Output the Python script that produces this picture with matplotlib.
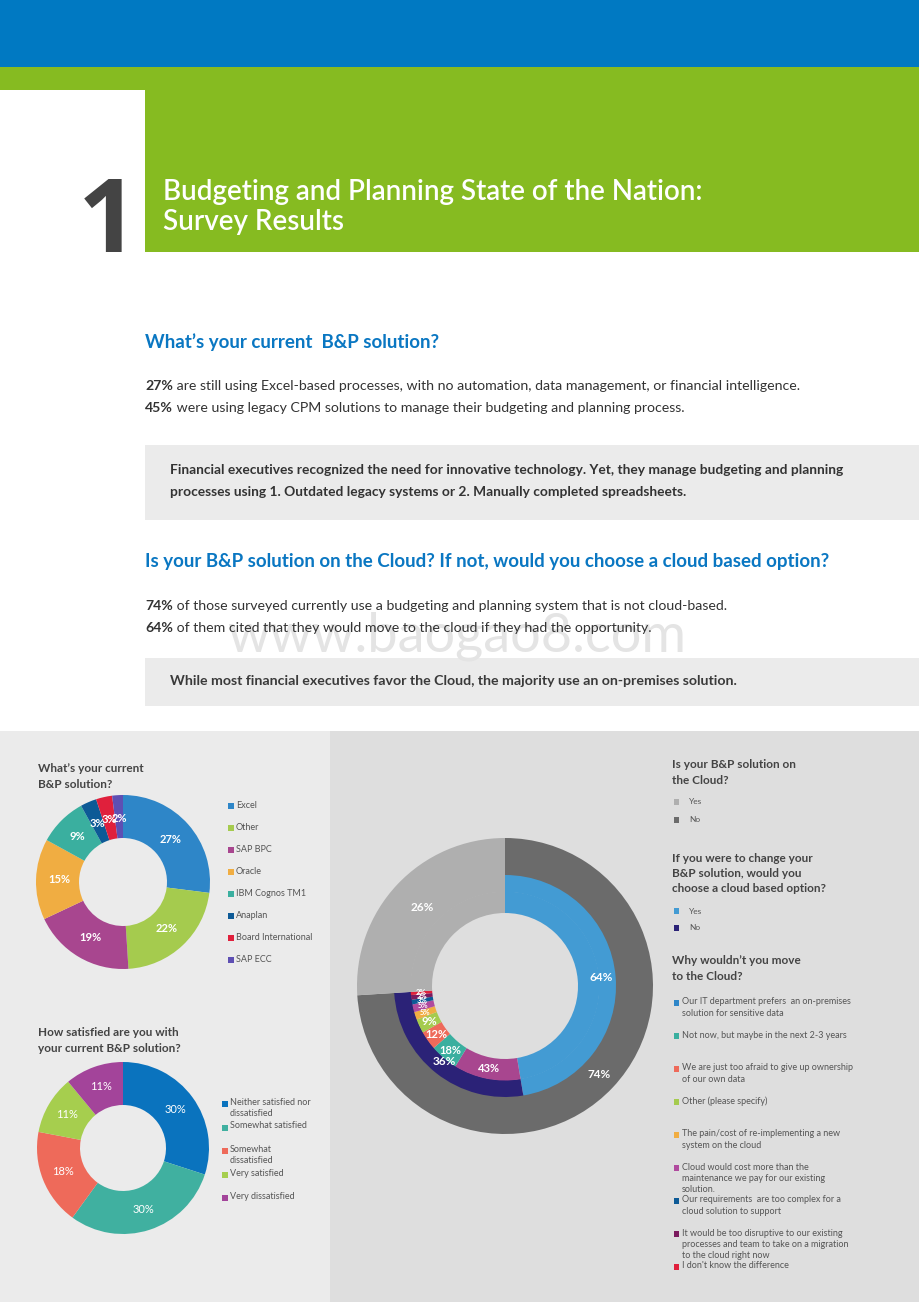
import numpy as np
import matplotlib.pyplot as plt
from matplotlib.patches import Rectangle

plt.rcParams['font.family'] = ['Lato', 'DejaVu Sans']

W, H = 920, 1302

# ---- data ----
sol_labels = ['Excel', 'Other', 'SAP BPC', 'Oracle', 'IBM Cognos TM1',
              'Anaplan', 'Board International', 'SAP ECC']
sol_values = [27, 22, 19, 15, 9, 3, 3, 2]
sol_colors = ['#2E86C8', '#A5CB4E', '#A8468F', '#F0AD42', '#3AAF9F',
              '#0D5A96', '#E0203C', '#5E4FB3']

sat_labels = ['Neither satisfied nor\ndissatisfied', 'Somewhat satisfied',
              'Somewhat\ndissatisfied', 'Very satisfied', 'Very dissatisfied']
sat_values = [30, 30, 18, 11, 11]
sat_colors = ['#0A73BE', '#40B0A0', '#EE6A5A', '#A6CE4E', '#A3449A']

cloud_labels = ['Yes', 'No']
cloud_values = [26, 74]
cloud_colors = ['#AFAFAF', '#6B6B6B']

switch_labels = ['Yes', 'No']
switch_values = [64, 36]
switch_colors = ['#439BD3', '#2B2277']

reason_labels = ['Our IT department prefers  an on-premises\nsolution for sensitive data',
                 'Not now, but maybe in the next 2-3 years',
                 'We are just too afraid to give up ownership\nof our own data',
                 'Other (please specify)',
                 'The pain/cost of re-implementing a new\nsystem on the cloud',
                 'Cloud would cost more than the\nmaintenance we pay for our existing\nsolution.',
                 'Our requirements  are too complex for a\ncloud solution to support',
                 'It would be too disruptive to our existing\nprocesses and team to take on a migration\nto the cloud right now',
                 "I don't know the difference"]
reason_values = [43, 18, 12, 9, 5, 5, 3, 3, 2]
reason_key_colors = ['#2E86C8', '#3AAF9F', '#EE6A5A', '#A5CB4E', '#F0AD42',
                     '#B04A9E', '#0D5A96', '#7B1A5E', '#E0203C']
reason_slice_colors = ['#A8468F'] + reason_key_colors[1:]

BLUE = '#0A77C2'
DARK = '#333333'
HEAD = '#444444'

fig = plt.figure(figsize=(W / 100, H / 100), dpi=100)
bg = fig.add_axes([0, 0, 1, 1])
bg.set_xlim(0, W)
bg.set_ylim(H, 0)
bg.axis('off')


def box(x0, y0, x1, y1, color, z=0):
    bg.add_patch(Rectangle((x0, y0), x1 - x0, y1 - y0, color=color, lw=0, zorder=z))


# ---- header bands ----
box(0, 0, W, 67, '#0079C2')
box(0, 67, W, 252, '#86BB21')
box(0, 90, 145, 252, 'white')
bg.text(108, 255, '1', fontsize=76, fontweight='bold', color='#444444',
        family=['Open Sans', 'DejaVu Sans'], ha='center', va='baseline')
box(0, 252, 145, 270, 'white', z=3)
bg.text(163, 200, 'Budgeting and Planning State of the Nation:', fontsize=20,
        fontweight='semibold', color='white', va='baseline')
bg.text(163, 230, 'Survey Results', fontsize=20, fontweight='semibold',
        color='white', va='baseline')

# watermark
bg.text(457, 636, 'www.baogao8.com', fontsize=39, color='#e4e4e4',
        ha='center', va='center', zorder=0.5)


def rich(x, y, bold, rest, size=10.2):
    t = bg.text(x, y, bold, fontsize=size, fontweight='bold', color=DARK,
                va='center', zorder=2)
    bg.annotate(rest, xy=(1, 0), xycoords=t, fontsize=size, color=DARK,
                va='bottom', ha='left', zorder=2)


bg.text(145, 342, 'What\u2019s your current  B&P solution?', fontsize=13.5,
        fontweight='bold', color=BLUE, va='center')
rich(145, 386, '27%', ' are still using Excel-based processes, with no automation, '
     'data management, or financial intelligence.')
rich(145, 408, '45%', ' were using legacy CPM solutions to manage their budgeting '
     'and planning process.')

box(145, 445, W, 520, '#EBEBEB')
bg.text(170, 470, 'Financial executives recognized the need for innovative technology. '
        'Yet, they manage budgeting and planning', fontsize=9.9,
        fontweight='bold', color=DARK, va='center')
bg.text(170, 492, 'processes using 1. Outdated legacy systems or 2. Manually '
        'completed spreadsheets.', fontsize=9.9, fontweight='bold',
        color=DARK, va='center')

bg.text(145, 562, 'Is your B&P solution on the Cloud? If not, would you choose '
        'a cloud based option?', fontsize=13.5, fontweight='bold',
        color=BLUE, va='center')
rich(145, 606, '74%', ' of those surveyed currently use a budgeting and planning '
     'system that is not cloud-based.')
rich(145, 628, '64%', ' of them cited that they would move to the cloud if they '
     'had the opportunity.')

box(145, 658, W, 706, '#EBEBEB')
bg.text(170, 681, 'While most financial executives favor the Cloud, the majority '
        'use an on-premises solution.', fontsize=10.2, fontweight='bold',
        color='#3a3a3a', va='center')

# ---- bottom panels ----
box(0, 731, 330, H, '#EBEBEB')
box(330, 731, W, H, '#DEDEDE')


def pie_axes(cx, cy, h):
    ax = fig.add_axes([(cx - h) / W, 1 - (cy + h) / H, 2 * h / W, 2 * h / H])
    ax.axis('off')
    return ax


def fix_limits(ax, h):
    ax.set_xlim(-h, h)
    ax.set_ylim(-h, h)
    ax.set_aspect('equal')


def ring_labels(ax, wedges, texts, r, sizes=None, fs=8, **kw):
    for i, (w, t) in enumerate(zip(wedges, texts)):
        if not t:
            continue
        a = np.deg2rad((w.theta1 + w.theta2) / 2)
        ax.text(r * np.cos(a), r * np.sin(a), t, ha='center', va='center',
                color='white', fontsize=sizes[i] if sizes else fs, **kw)


def key(x, y, color, s=6):
    bg.add_patch(Rectangle((x, y - s / 2), s, s, color=color, lw=0))


# pie 1: current solution
ax1 = pie_axes(123, 882, 95)
w1, _ = ax1.pie(sol_values, colors=sol_colors, radius=87, startangle=90,
                counterclock=False, wedgeprops=dict(width=43, lw=0))
fix_limits(ax1, 95)
ring_labels(ax1, w1, [f'{v}%' for v in sol_values], 64, fs=8, fontweight='bold')
bg.text(38, 768, 'What\u2019s your current', fontsize=8.5, fontweight='bold',
        color=HEAD, va='center')
bg.text(38, 784, 'B&P solution?', fontsize=8.5, fontweight='bold',
        color=HEAD, va='center')
for i, (lab, c) in enumerate(zip(sol_labels, sol_colors)):
    y = 806 + 22 * i
    key(228, y, c)
    bg.text(236, y, lab, fontsize=6.5, color='#555555', va='center')

# pie 2: satisfaction
ax2 = pie_axes(123, 1148, 95)
w2, _ = ax2.pie(sat_values, colors=sat_colors, radius=86, startangle=90,
                counterclock=False, wedgeprops=dict(width=43, lw=0))
fix_limits(ax2, 95)
ring_labels(ax2, w2, [f'{v}%' for v in sat_values], 65, fs=8)
bg.text(38, 1033, 'How satisfied are you with', fontsize=8.5, fontweight='bold',
        color=HEAD, va='center')
bg.text(38, 1048, 'your current B&P solution?', fontsize=8.5, fontweight='bold',
        color=HEAD, va='center')
for i, (lab, c) in enumerate(zip(sat_labels, sat_colors)):
    y = 1104 + 23.5 * i
    key(222, y, c)
    bg.text(230, y - 6, lab, fontsize=6.5, color='#555555', va='top',
            linespacing=1.35)

# big nested pie: cloud
ax3 = pie_axes(505, 986, 155)
yes, no = cloud_values
w_out, _ = ax3.pie([no, yes], colors=cloud_colors[::-1], radius=148,
                   startangle=90, counterclock=False,
                   wedgeprops=dict(width=38, lw=0))
mid_sizes = [no * v / 100 for v in switch_values] + [yes]
w_mid, _ = ax3.pie(mid_sizes, colors=switch_colors + [cloud_colors[0]],
                   radius=111, startangle=90, counterclock=False,
                   wedgeprops=dict(width=17, lw=0))
in_sizes = ([no * switch_values[0] / 100]
            + [no * switch_values[1] / 100 * v / 100 for v in reason_values]
            + [yes])
w_in, _ = ax3.pie(in_sizes, colors=[switch_colors[0]] + reason_slice_colors
                  + [cloud_colors[0]], radius=94.5, startangle=90,
                  counterclock=False, wedgeprops=dict(width=21.5, lw=0))
fix_limits(ax3, 155)
ring_labels(ax3, w_out, [f'{no}%', ''], 129, fs=8.5, fontweight='bold')
ring_labels(ax3, [w_out[1]], [f'{yes}%'], 114, fs=8.5, fontweight='bold')
ring_labels(ax3, w_mid, [f'{v}%' for v in switch_values] + [''], 97,
            fs=8.5, fontweight='bold')
in_txt = [''] + [f'{v}%' for v in reason_values] + ['']
in_fs = [7] + [8 if v >= 9 else 5.5 for v in reason_values] + [7]
ring_labels(ax3, w_in, in_txt, 84, sizes=in_fs, fontweight='bold')


# right-hand keys
def head(x, y, lines):
    for j, ln in enumerate(lines):
        bg.text(x, y + j * 15.5, ln, fontsize=8.5, fontweight='bold',
                color=HEAD, va='center')


head(672, 765, ['Is your B&P solution on', 'the Cloud?'])
for i, (lab, c) in enumerate(zip(cloud_labels, cloud_colors)):
    y = 802 + 18 * i
    key(674, y, c, 5.5)
    bg.text(689, y, lab, fontsize=6, color='#555555', va='center')

head(672, 858, ['If you were to change your', 'B&P solution, would you',
                'choose a cloud based option?'])
for i, (lab, c) in enumerate(zip(switch_labels, switch_colors)):
    y = 911 + 17 * i
    key(674, y, c, 5.5)
    bg.text(689, y, lab, fontsize=6, color='#555555', va='center')

head(672, 961, ['Why wouldn\u2019t you move', 'to the Cloud?'])
for i, (lab, c) in enumerate(zip(reason_labels, reason_key_colors)):
    y = 1003 + 33 * i
    key(674, y, c, 5.5)
    bg.text(682, y - 5.5, lab, fontsize=6.5, color='#555555', va='top',
            linespacing=1.35)

fig.savefig('out.png', dpi=100)
